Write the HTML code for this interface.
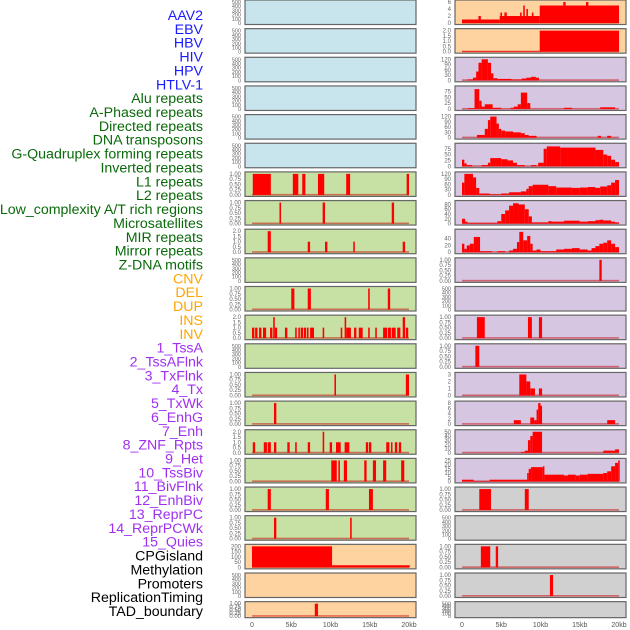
<!DOCTYPE html>
<html><head><meta charset="utf-8">
<style>
html,body{margin:0;padding:0;background:#fff;}
body{width:630px;height:630px;overflow:hidden;font-family:"Liberation Sans",sans-serif;}
svg{display:block;}
</style></head>
<body>
<svg id="chart" width="630" height="630" viewBox="0 0 630 630"></svg>
<script>
// ---- labels ----
const trackLabels = ["AAV2","EBV","HBV","HIV","HPV","HTLV-1","Alu repeats","A-Phased repeats","Directed repeats","DNA transposons","G-Quadruplex forming repeats","Inverted repeats","L1 repeats","L2 repeats","Low_complexity A/T rich regions","Microsatellites","MIR repeats","Mirror repeats","Z-DNA motifs","CNV","DEL","DUP","INS","INV","1_TssA","2_TssAFlnk","3_TxFlnk","4_Tx","5_TxWk","6_EnhG","7_Enh","8_ZNF_Rpts","9_Het","10_TssBiv","11_BivFlnk","12_EnhBiv","13_ReprPC","14_ReprPCWk","15_Quies","CPGisland","Methylation","Promoters","ReplicationTiming","TAD_boundary"];
const labelGroups = [6,13,5,15,5];
const groupColors = ["#1a1aff","#0a6a0a","#ffa500","#a030f0","#000000"];
const xTicks = [0,5,10,15,20];
const xTickLabels = ["0","5kb","10kb","15kb","20kb"];

// ---- tick sets ----
const T500 = [0,100,200,300,400,500];
const T1 = [0,0.25,0.5,0.75,1];
const T2 = [0,0.5,1,1.5,2];

// ---- left column data: [startKb, endKb, value] ----
const L7 = [[0.1,2.4,1],[5.2,5.9,1],[6.4,6.8,1],[8.4,9.2,1],[12,12.5,1],[19.7,20,1]];
const L8 = [[3.5,3.7,1],[9.0,9.3,1],[17.8,18.1,1]];
const L9 = [[2.0,2.4,2],[7.1,7.4,1],[9.3,9.6,1],[12.9,13.1,1],[19.2,19.5,1]];
const L11 = [[5.0,5.4,1],[7.1,7.5,1],[14.8,15.0,1],[17.3,17.6,1]];
const L12 = [[0,0.3,1],[0.4,0.7,1],[0.9,1.2,1],[1.4,1.8,1],[2.3,2.6,1],[2.7,2.9,2],[2.9,3.2,1],[4.2,4.5,1],[5.5,5.7,1],[5.9,6.1,1],[6.2,6.5,1],[6.6,6.9,1],[7.0,7.2,1],[7.4,7.9,1],[9.0,9.2,1],[11.3,11.5,1],[11.8,12.0,2],[12.0,12.6,1],[13.0,13.3,1],[13.6,14.1,1],[14.8,15.0,1],[15.7,15.9,1],[16.7,17.2,1],[17.3,17.7,1],[17.8,18.3,1],[18.5,18.9,1],[19.2,19.5,2],[19.6,19.9,1]];
const L14 = [[10.5,10.7,1],[19.6,20,1]];
const L15 = [[2.8,3.1,1]];
const L16 = [[0.1,0.4,1],[1.5,1.9,1],[2.0,2.4,1],[2.8,3.1,1],[4.5,4.8,1],[5.5,5.7,1],[7.1,7.4,1],[9.0,9.2,2],[9.9,10.2,1],[10.7,11.3,1],[11.8,12.4,1],[14.5,14.8,1],[14.9,15.2,1],[17.1,17.5,1],[17.7,17.9,1],[18.2,18.5,1],[18.7,19.0,1]];
const L17 = [[10.1,10.8,1],[11.0,11.2,1],[11.7,12.1,1],[14.3,14.6,1],[15.4,15.8,1],[16.7,17.1,1],[19.0,19.4,1]];
const L18 = [[2.0,2.4,1],[9.4,9.8,1],[14.9,15.4,1]];
const L19 = [[2.8,3.1,1],[12.5,12.7,1]];
const L20 = [[0,10.2,200],[10.2,20.1,20]];
const L22 = [[8.0,8.4,1]];

// ---- right column data ----
const R1 = [[0,4.8,1],[2.1,2.4,2],[4.8,9.9,2],[4.9,5.1,3],[5.4,5.7,3],[7.4,7.6,3],[7.8,8.0,5],[8.2,8.4,4],[8.9,9.1,3],[9.9,20,5],[12.9,13.2,6],[15.8,16.1,6]];
const R2 = [[0,9.9,0.05],[9.9,20,2]];
const R3 = [[0.7,1.4,5],[1.4,1.8,15],[1.8,2.1,50],[2.1,2.5,100],[2.5,3.3,120],[3.3,3.7,100],[3.7,4.0,40],[4.0,4.5,12],[4.5,6.3,8],[6.3,7.6,5],[7.6,8.2,10],[8.2,8.8,15],[8.8,9.4,20],[9.4,9.8,15]];
const R4 = [[0.8,1.6,3],[1.6,2.2,85],[2.2,2.5,35],[2.5,2.9,10],[2.9,3.9,20],[3.9,5.0,5],[6.2,6.6,5],[6.6,7.1,10],[7.1,7.5,20],[7.5,8.3,70],[8.3,8.7,25],[13,14,5],[17.6,19.5,7]];
const R5 = [[1.9,2.9,15],[2.9,3.3,50],[3.3,3.6,100],[3.6,4.4,120],[4.4,4.7,80],[4.7,5.0,50],[5.0,5.5,40],[5.5,6.5,35],[6.5,7.5,30],[7.5,8.0,25],[8.0,8.5,15],[8.5,9.5,10],[17.3,17.7,10],[18.5,19.0,10]];
const R6 = [[0,0.3,28],[0.3,0.6,12],[0.6,1.3,5],[2.5,3.3,5],[3.3,3.6,15],[3.6,5.0,35],[5.0,5.8,30],[5.8,6.5,25],[6.5,7.0,15],[7.0,8.0,5],[8.8,9.5,5],[9.7,10.4,15],[10.4,10.8,75],[10.8,12.5,85],[12.5,13.5,80],[13.5,17.0,80],[17.0,18.0,70],[18.0,18.5,50],[18.5,19.0,45],[19.0,19.5,28],[19.5,20,18]];
const R7 = [[0,0.3,70],[0.3,1.4,120],[1.4,1.8,100],[1.8,2.2,40],[2.2,3.5,8],[3.5,5.0,3],[5.0,6.0,8],[6.0,7.5,15],[7.5,8.2,20],[8.2,8.5,35],[8.5,9.0,50],[9.0,11.0,58],[11.0,12.0,50],[12.0,14.0,42],[14.0,15.0,40],[15.0,16.0,42],[16.0,17.0,45],[17.0,17.6,40],[17.6,18.5,48],[18.5,19.0,55],[19.0,19.5,70],[19.5,20,85]];
const R8 = [[0,0.4,20],[0.4,0.7,8],[0.7,4.5,3],[4.5,5.0,10],[5.0,5.5,40],[5.5,6.0,55],[6.0,6.5,75],[6.5,7.2,85],[7.2,8.0,80],[8.0,8.5,60],[8.5,8.9,30],[8.9,11.0,5],[11.0,11.4,10],[11.4,13.0,8],[13.0,15.0,12],[15.0,16.0,8],[16.0,17.0,10],[17.0,17.5,14],[17.5,18.0,16],[18.0,19.0,13],[19.0,19.5,8],[19.5,20,5]];
const R9 = [[0,0.3,25],[0.3,0.6,10],[0.6,1.0,20],[1.0,1.5,25],[1.5,2.3,45],[2.3,3.8,3],[4.5,5.5,3],[6.0,6.5,5],[6.5,7.0,10],[7.0,7.3,30],[7.3,7.8,60],[7.8,8.3,35],[8.3,8.7,48],[8.7,9.0,25],[9.0,9.5,5],[9.5,10.0,8],[10.0,12.0,3],[12.0,13.0,8],[13.0,14.0,10],[14.0,15.0,12],[15.0,16.0,8],[16.0,16.5,5],[16.5,17.0,12],[17.0,17.5,18],[17.5,18.0,25],[18.0,18.5,28],[18.5,19.0,35],[19.0,19.5,25],[19.5,20,15]];
const R10 = [[17.5,17.8,1]];
const R12 = [[1.9,2.9,1],[8.4,8.9,1],[9.8,10.2,1]];
const R13 = [[1.7,2.2,1]];
const R14 = [[7.3,8.2,3],[8.2,8.7,2],[8.7,9.3,1],[9.8,10.2,1]];
const R15 = [[6.6,7.5,1.5],[8.7,9.2,2.5],[9.2,9.5,1.5],[9.5,9.7,5.5],[9.7,10.0,8],[10.0,10.2,7],[18.5,19.5,1.5]];
const R16 = [[7.5,8.0,2],[8.0,8.4,5],[8.4,8.7,30],[8.7,9.0,40],[9.0,10.2,50],[18.0,19.5,5],[19.5,20,8]];
const R17 = [[0,1.5,2],[1.5,3.5,0.5],[3.5,8.3,2],[8.3,8.5,10],[8.5,8.8,15],[8.8,10.3,17],[10.3,10.5,18],[10.5,13.0,8],[13.0,13.5,7],[13.5,14.5,8],[14.5,15.0,7],[15.0,16.0,8],[16.0,18.0,9],[18.0,18.5,10],[18.5,19.0,12],[19.0,19.5,18],[19.5,19.9,22],[19.9,20,25]];
const R18 = [[2.2,3.7,1],[8.0,8.5,1]];
const R20 = [[2.4,3.6,1],[4.3,4.6,1]];
const R21 = [[11.2,11.6,1]];

const leftPanels = [
 {bg:"#c8e4ec",t:T500,d:null},{bg:"#c8e4ec",t:T500,d:null},{bg:"#c8e4ec",t:T500,d:null},
 {bg:"#c8e4ec",t:T500,d:null},{bg:"#c8e4ec",t:T500,d:null},{bg:"#c8e4ec",t:T500,d:null},
 {bg:"#c7e0a4",t:T1,d:L7},{bg:"#c7e0a4",t:T1,d:L8},{bg:"#c7e0a4",t:T2,d:L9},
 {bg:"#c7e0a4",t:T500,d:null},{bg:"#c7e0a4",t:T1,d:L11},{bg:"#c7e0a4",t:T2,d:L12},
 {bg:"#c7e0a4",t:T500,d:null},{bg:"#c7e0a4",t:T1,d:L14},{bg:"#c7e0a4",t:T1,d:L15},
 {bg:"#c7e0a4",t:T2,d:L16},{bg:"#c7e0a4",t:T1,d:L17},{bg:"#c7e0a4",t:T1,d:L18},
 {bg:"#c7e0a4",t:T1,d:L19},{bg:"#ffd3a0",t:[0,50,100,150,200],d:L20},
 {bg:"#ffd3a0",t:T500,d:null},{bg:"#ffd3a0",t:T1,d:L22}
];
const rightPanels = [
 {bg:"#ffd3a0",t:[0,2,4,6],d:R1},{bg:"#ffd3a0",t:[0,0.5,1,1.5,2],d:R2,f:1},
 {bg:"#d6c6e2",t:[0,30,60,90,120],d:R3},{bg:"#d6c6e2",t:[0,25,50,75],d:R4,m:90},
 {bg:"#d6c6e2",t:[0,30,60,90,120],d:R5},{bg:"#d6c6e2",t:[0,25,50,75],d:R6,m:90},
 {bg:"#d6c6e2",t:[0,30,60,90,120],d:R7},{bg:"#d6c6e2",t:[0,20,40,60,80],d:R8,m:88},
 {bg:"#d6c6e2",t:[0,20,40],d:R9,m:62},{bg:"#d6c6e2",t:T1,d:R10},
 {bg:"#d6c6e2",t:T500,d:null},{bg:"#d6c6e2",t:T1,d:R12},
 {bg:"#d6c6e2",t:T1,d:R13},{bg:"#d6c6e2",t:[0,1,2,3],d:R14},
 {bg:"#d6c6e2",t:[0,2,4,6,8],d:R15},{bg:"#d6c6e2",t:[0,10,20,30,40,50],d:R16},
 {bg:"#d6c6e2",t:[0,5,10,15,20,25],d:R17},{bg:"#d0d0d0",t:T1,d:R18},
 {bg:"#d0d0d0",t:T500,d:null},{bg:"#d0d0d0",t:T1,d:R20},
 {bg:"#d0d0d0",t:T1,d:R21},{bg:"#d0d0d0",t:T500,d:null}
];

const NS = "http://www.w3.org/2000/svg";
const svg = document.getElementById('chart');
function mk(tag, attrs){const e=document.createElementNS(NS,tag);for(const k in attrs)e.setAttribute(k,attrs[k]);return e;}

// labels
let li=0;
labelGroups.forEach((n,g)=>{
  for(let k=0;k<n;k++){
    const y = 15 + li*13.86 + 5;
    const t = mk('text',{x:203,y:y,'text-anchor':'end','font-size':'14.2',fill:groupColors[g],'font-family':'Liberation Sans, sans-serif'});
    t.textContent = trackLabels[li];
    
    
    svg.appendChild(t);
    li++;
  }
});

function drawPanel(p, i, col){
  const px = col===0 ? 245 : 455;
  const pw = 171;
  const top = i*28.65;
  const h = i===21 ? 16 : 24.5;
  const x0 = px+7, kbScale = 157/20;
  const xs = kb => x0 + kb*kbScale;
  const yMax = p.m || p.t[p.t.length-1];
  const yBase = top + h - 1.5, yTop = top + 2;
  const ys = v => yBase - (v/yMax)*(yBase-yTop);
  const g = mk('g',{});
  
  
  g.appendChild(mk('rect',{x:px,y:top,width:pw,height:h,fill:p.bg,stroke:'#666','stroke-width':1.2}));
  // y ticks
  const fs = p.t===T500 ? 5.5 : 6;
  p.t.forEach(v=>{
    const tt = mk('text',{x:px-4,y:ys(v)+2,'text-anchor':'end','font-size':fs,fill:'#666'});
    tt.textContent = (p.t===T1)? v.toFixed(2) : (p.t===T2 || p.f) ? v.toFixed(1) : String(v);
    
    
    g.appendChild(tt);
  });
  if(p.d){
    const bl = mk('rect',{x:xs(0),y:yBase-1,width:xs(20)-xs(0),height:1.6,fill:'rgba(200,0,0,0.5)'});
    
    
    g.appendChild(bl);
    p.d.forEach(s=>{
      const yy = ys(s[2]);
      const r = mk('rect',{x:xs(s[0]),y:yy,width:Math.max(1.5,xs(s[1])-xs(s[0])),height:Math.max(0.5,yBase-yy),fill:'#ff0000'});
      
      
      g.appendChild(r);
    });
  }
  svg.appendChild(g);
}
leftPanels.forEach((p,i)=>drawPanel(p,i,0));
rightPanels.forEach((p,i)=>drawPanel(p,i,1));

// x axis labels
[252,462].forEach(x0=>{
  xTicks.forEach((kb,k)=>{
    const t = mk('text',{x:x0+kb*157/20,y:627,'text-anchor':'middle','font-size':7,fill:'#555'});
    t.textContent = xTickLabels[k];
    
    
    svg.appendChild(t);
  });
});
</script>
</body></html>
